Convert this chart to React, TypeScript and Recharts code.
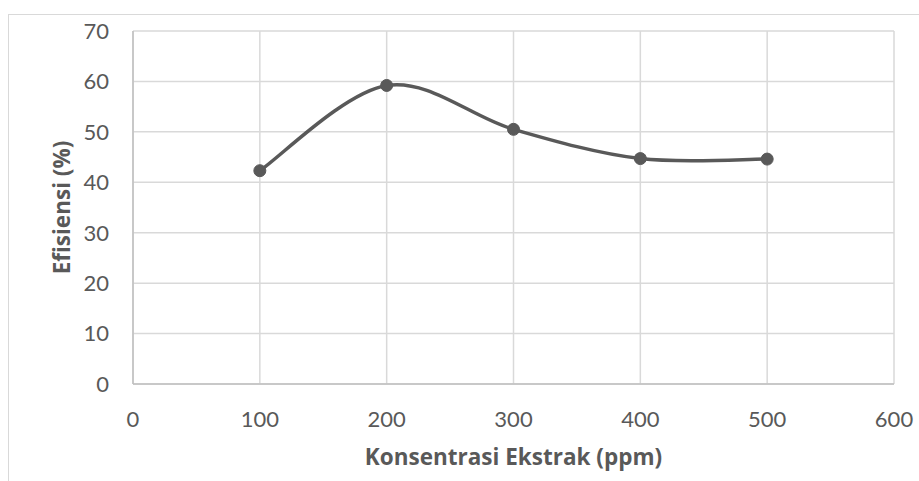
import { CartesianGrid, Label, Line, LineChart, XAxis, YAxis } from "recharts"

const konsentrasi = [100, 200, 300, 400, 500]
const efisiensi = [42.3, 59.2, 50.5, 44.7, 44.6]
const xTicks = [0, 100, 200, 300, 400, 500, 600]
const yTicks = [0, 10, 20, 30, 40, 50, 60, 70]

const data = konsentrasi.map((k, i) => ({ konsentrasi: k, efisiensi: efisiensi[i] }))

const font = "Lato, 'Open Sans', sans-serif"
const titleFont = "'Open Sans', Lato, sans-serif"
const textColor = "#595959"

// Excel style smoothed line (Catmull-Rom through the points)
const excelSmooth = (context: any) => {
  let pts: number[][] = []
  return {
    areaStart() {},
    areaEnd() {},
    lineStart() {
      pts = []
    },
    point(x: number, y: number) {
      pts.push([+x, +y])
    },
    lineEnd() {
      if (!pts.length) return
      context.moveTo(pts[0][0], pts[0][1])
      for (let i = 0; i < pts.length - 1; i++) {
        const p0 = pts[Math.max(i - 1, 0)]
        const p1 = pts[i]
        const p2 = pts[i + 1]
        const p3 = pts[Math.min(i + 2, pts.length - 1)]
        context.bezierCurveTo(
          p1[0] + (p2[0] - p0[0]) / 6,
          p1[1] + (p2[1] - p0[1]) / 6,
          p2[0] - (p3[0] - p1[0]) / 6,
          p2[1] - (p3[1] - p1[1]) / 6,
          p2[0],
          p2[1]
        )
      }
    },
  }
}

export default function App() {
  return (
    <div style={{ position: "absolute", left: 0, top: 0, width: 919, height: 481, background: "#fff" }}>
      <div
        style={{
          position: "absolute",
          left: 8,
          top: 14,
          width: 911,
          height: 467,
          borderLeft: "1px solid #d9d9d9",
          borderTop: "1px solid #d9d9d9",
        }}
      />
      <div style={{ position: "absolute", left: 0, top: 0 }}>
        <LineChart width={919} height={481} data={data} margin={{ top: 31, right: 25, left: 0, bottom: 57 }}>
          <CartesianGrid stroke="#d9d9d9" strokeWidth={1.5} />
          <XAxis
            type="number"
            dataKey="konsentrasi"
            domain={[0, 600]}
            ticks={xTicks}
            interval={0}
            height={40}
            tickLine={false}
            tickSize={0}
            tickMargin={27}
            axisLine={{ stroke: "#bfbfbf", strokeWidth: 1.5 }}
            tick={{ fill: textColor, fontSize: 22, fontFamily: font }}
          >
            <Label
              value="Konsentrasi Ekstrak (ppm)"
              position="insideBottom"
              offset={-41}
              style={{
                fill: textColor,
                fontSize: 22.5,
                fontWeight: 700,
                fontFamily: titleFont,
                fontVariantLigatures: "none",
              }}
            />
          </XAxis>
          <YAxis
            type="number"
            domain={[0, 70]}
            ticks={yTicks}
            interval={0}
            width={133}
            tickLine={false}
            tickSize={0}
            tickMargin={24}
            axisLine={{ stroke: "#bfbfbf", strokeWidth: 1.5 }}
            tick={{ fill: textColor, fontSize: 22, fontFamily: font }}
          >
            <Label
              value="Efisiensi (%)"
              angle={-90}
              position="insideLeft"
              offset={62}
              style={{
                fill: textColor,
                fontSize: 22.5,
                fontWeight: 700,
                fontFamily: titleFont,
                textAnchor: "middle",
                fontVariantLigatures: "none",
              }}
            />
          </YAxis>
          <Line
            type={excelSmooth as any}
            dataKey="efisiensi"
            stroke="#595959"
            strokeWidth={3.5}
            dot={{ r: 6, fill: "#595959", stroke: "#595959", strokeWidth: 1 }}
            isAnimationActive={false}
          />
        </LineChart>
      </div>
    </div>
  )
}
